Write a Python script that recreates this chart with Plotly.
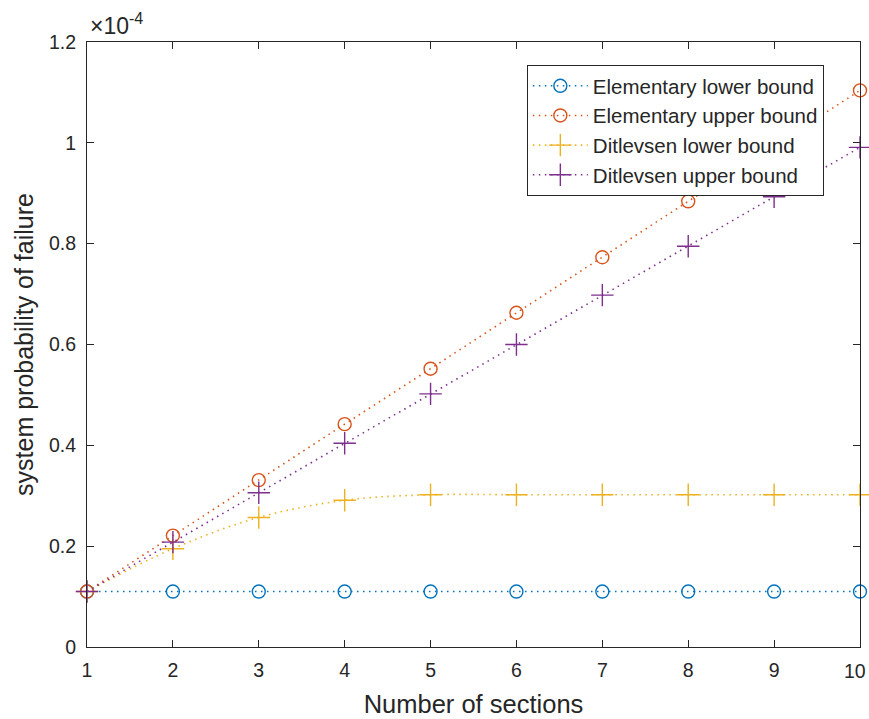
import plotly.graph_objects as go

sections = [1, 2, 3, 4, 5, 6, 7, 8, 9, 10]
x_ticktext = ["1", "2", "3", "4", "5", "6", "7", "8", "9", ""]
last_tick_label = "10"
elem_lower = [0.110e-4] * 10
elem_upper = [0.110e-4, 0.221e-4, 0.331e-4, 0.442e-4, 0.552e-4, 0.663e-4, 0.773e-4, 0.884e-4, 0.994e-4, 1.104e-4]
dit_lower = [0.110e-4, 0.195e-4, 0.257e-4, 0.291e-4, 0.302e-4, 0.302e-4, 0.302e-4, 0.302e-4, 0.302e-4, 0.302e-4]
dit_upper = [0.110e-4, 0.208e-4, 0.306e-4, 0.404e-4, 0.502e-4, 0.600e-4, 0.698e-4, 0.795e-4, 0.893e-4, 0.991e-4]

y_tickvals = [0, 0.2e-4, 0.4e-4, 0.6e-4, 0.8e-4, 1.0e-4, 1.2e-4]
y_ticktext = ["0", "0.2", "0.4", "0.6", "0.8", "1", "1.2"]

series = [
    ("Elementary lower bound", elem_lower, "#0072BD", "circle-open", 13, "linear"),
    ("Elementary upper bound", elem_upper, "#D95319", "circle-open", 13, "linear"),
    ("Ditlevsen lower bound", dit_lower, "#EDB120", "cross-thin-open", 16, "spline"),
    ("Ditlevsen upper bound", dit_upper, "#7E2F8E", "cross-thin-open", 16, "linear"),
]

fig = go.Figure()
for name, ys, color, sym, size, shape in series:
    fig.add_trace(go.Scatter(
        x=sections, y=ys, name=name, mode="lines+markers", cliponaxis=False,
        legendgroup=name,
        line=dict(color=color, width=1.6, dash="1.5px,4.5px", shape=shape),
        marker=dict(symbol=sym, size=size, color=color, line=dict(color=color, width=1.4)),
    ))

font_family = "Liberation Sans, Arial, sans-serif"
tick_font = dict(family=font_family, size=19.5, color="#262626")
axis_common = dict(
    showline=True, linecolor="#262626", linewidth=1, mirror="ticks",
    ticks="inside", ticklen=7, tickcolor="#262626", tickwidth=1,
    showgrid=False, zeroline=False, automargin=False,
    tickfont=tick_font,
)
fig.update_layout(
    width=869, height=719,
    paper_bgcolor="white", plot_bgcolor="white",
    margin=dict(l=87, r=9, t=42, b=72),
    font=dict(family=font_family, color="#262626"),
    xaxis=dict(range=[1, 10], tickvals=sections, ticktext=x_ticktext, ticklabelstandoff=6,
               title=dict(text="Number of sections", font=dict(size=25.5, family=font_family), standoff=14),
               **axis_common),
    yaxis=dict(range=[0, 1.2e-4], tickvals=y_tickvals, ticktext=y_ticktext, ticklabelstandoff=6,
               title=dict(text="system probability of failure", font=dict(size=25, family=font_family), standoff=8),
               **axis_common),
    legend=dict(x=0.569, y=0.962, xanchor="left", yanchor="top",
                bgcolor="white", bordercolor="#262626", borderwidth=1,
                font=dict(family=font_family, size=20.5, color="#262626"),
                tracegroupgap=0, itemwidth=55),
    showlegend=True,
)
# last x tick label, kept inside the page like the reference
fig.add_annotation(
    x=sections[-1], y=0, xref="x", yref="paper", xanchor="right", yanchor="top",
    text=last_tick_label, showarrow=False, xshift=8, yshift=-11,
    font=tick_font,
)
fig.add_annotation(
    x=0, y=1, xref="paper", yref="paper", xanchor="left", yanchor="bottom",
    text="×10<sup>-4</sup>", showarrow=False, yshift=1, xshift=1,
    font=dict(family=font_family, size=23, color="#262626"),
)
fig.write_html("out.html", config={"displayModeBar": False},
               post_script="document.body.style.margin='0';document.body.style.overflow='hidden';")
